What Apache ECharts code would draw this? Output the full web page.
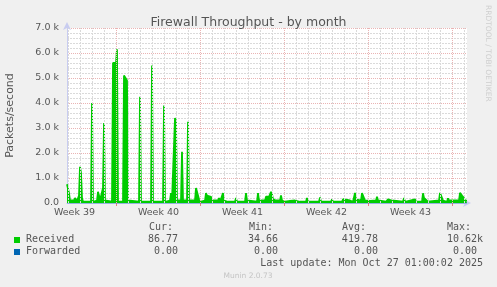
<!DOCTYPE html>
<html><head><meta charset="utf-8">
<script src="https://cdn.jsdelivr.net/npm/echarts@6/dist/echarts.min.js"></script>
<style>html,body{margin:0;padding:0;background:#f0f0f0}#c{width:497px;height:287px}</style>
</head><body><div id="c"></div>
<script>
// Hours relative to Mon 29 Sep 2025 00:00
const times = [-99,-97,-95,-93,-89,-85,-83,-81,-79,-75,-73,-71,-69,-67,-51,-49,-47,-39,-37,-35,-33,-29,-27,-25,-23,-21,-9,-7,-1,1,3,13,15,19,21,23,25,45,47,49,69,71,73,93,95,97,107,109,111,115,117,119,121,129,131,133,141,143,145,157,159,161,163,165,167,177,179,181,185,189,191,195,203,205,207,211,213,215,223,237,239,241,257,259,261,281,283,285,297,299,301,305,309,311,313,319,327,329,331,337,341,347,357,367,379,381,383,405,407,409,429,431,433,451,453,457,467,473,477,479,483,489,491,495,497,501,507,519,521,523,539,543,547,551,555,573,575,577,597,599,611,613,615,619,623,645,647,651,653,661,663,665,673,685,687,691,695,697,701];
const received = [750,700,400,100,50,100,200,150,80,300,1450,1200,200,50,50,4000,50,100,450,300,100,100,600,3200,100,50,50,5600,5600,6150,50,50,5100,5100,4900,100,50,50,4250,50,50,5500,50,50,3900,50,100,400,100,50,3400,3300,100,100,2050,100,100,3250,100,100,600,450,300,150,50,100,400,300,300,250,100,50,100,200,50,50,400,100,50,50,200,50,50,400,100,50,400,100,100,250,300,250,450,350,150,100,100,300,100,50,100,80,100,50,50,200,50,50,220,50,50,150,50,50,150,100,100,50,400,150,150,100,400,400,100,100,80,100,250,100,50,150,200,100,50,50,200,50,150,50,50,390,200,150,50,100,410,400,100,50,190,100,100,100,410,300,200,100,90];
const fwdTimes = [-99, 701];
const forwarded = [0, 0];

const weekLabels = ['Week 39','Week 40','Week 41','Week 42','Week 43'];
const weekLabelHours = [-84, 84, 252, 420, 588];
const weekStartHours = [0, 168, 336, 504, 672];

const legendNames = ['Received','Forwarded'];
const legendColors = ['#00cc00','#0066b3'];
const statHeaders = ['Cur:','Min:','Avg:','Max:'];
const receivedStats = ['86.77 ','34.66 ','419.78 ','10.62k'];
const forwardedStats = ['0.00 ','0.00 ','0.00 ','0.00 '];
const lastUpdate = 'Last update: Mon Oct 27 01:00:02 2025';

const chart = echarts.init(document.getElementById('c'), null, {renderer:'canvas'});

const dayLines = [];
for (let h = -96; h <= 700; h += 24) {
  if (weekStartHours.indexOf(h) >= 0) continue;
  dayLines.push({xAxis: h, lineStyle: {color: '#dadada', type: [2,1], width: 1}});
}
weekStartHours.forEach(h => dayLines.push({xAxis: h, lineStyle: {color: '#eab4b4', type: [1,1], width: 1}}));

const mono = 'DejaVu Sans Mono';
const txtColor = '#555';
const graphic = [];
const hdrX = [149, 249, 342, 447];
const colRight = [184, 284, 384, 483];
statHeaders.forEach((t,i) => graphic.push({type:'text', left:hdrX[i], top:222, style:{text:t, font:'10px "'+mono+'"', fill:txtColor}}));
[receivedStats, forwardedStats].forEach((arr, r) => {
  const y = 234 + r*12;
  graphic.push({type:'rect', shape:{x:14, y:y+3, width:6, height:6}, style:{fill:legendColors[r]}});
  graphic.push({type:'text', x:26, y:y, style:{text:legendNames[r], font:'10px "'+mono+'"', fill:txtColor}});
  arr.forEach((v,i) => graphic.push({type:'text', x:colRight[i], y:y, style:{text:v, font:'10px "'+mono+'"', fill:txtColor, align:'right'}}));
});
graphic.push({type:'text', x:483, y:258, style:{text:lastUpdate, font:'10px "'+mono+'"', fill:txtColor, align:'right'}});
graphic.push({type:'text', x:248, y:272, style:{text:'Munin 2.0.73', font:'7.5px "DejaVu Sans"', fill:'#c4c4c4', align:'center'}});
graphic.push({type:'text', x:484, y:5, rotation:-Math.PI/2, style:{text:'RRDTOOL / TOBI OETIKER', font:'7.5px "DejaVu Sans"', fill:'#cfcfcf', align:'left', verticalAlign:'bottom'}});

chart.setOption({
  animation: false,
  backgroundColor: '#f0f0f0',
  title: {text:'Firewall Throughput - by month', left:'center', top:11,
    textStyle:{fontFamily:'DejaVu Sans', fontSize:12.5, fontWeight:'normal', color:'#555'}},
  grid: {left:67, right:30, top:28, bottom:84, show:true, backgroundColor:'#ffffff', borderWidth:0, containLabel:false, outerBoundsMode:'none'},
  xAxis: {type:'value', min:-99, max:701,
    axisLine:{show:true, onZero:false, lineStyle:{color:'#c8ccf0', width:1}, symbol:['none','arrow'], symbolSize:[6,8], symbolOffset:[0,4]},
    axisTick:{show:true, customValues:weekStartHours, length:3, lineStyle:{color:'#e08080'}},
    axisLabel:{customValues:weekLabelHours, formatter:(v)=>weekLabels[weekLabelHours.indexOf(Math.round(v))] || '',
      fontFamily:'DejaVu Sans', fontSize:9.5, color:txtColor, margin:5},
    splitLine:{show:false}},
  yAxis: {type:'value', min:0, max:7000, interval:1000,
    name:'Packets/second', nameLocation:'middle', nameGap:51, nameRotate:90,
    nameTextStyle:{fontFamily:'DejaVu Sans', fontSize:11, color:txtColor},
    axisLine:{show:true, onZero:false, lineStyle:{color:'#c8ccf0', width:1}, symbol:['none','arrow'], symbolSize:[6,8], symbolOffset:[0,6]},
    axisTick:{show:false},
    axisLabel:{formatter:(v)=> v===0 ? '0.0' : (v/1000).toFixed(1)+' k', fontFamily:'DejaVu Sans', fontSize:9.5, color:txtColor, margin:8},
    splitLine:{show:true, lineStyle:{color:'#eab4b4', type:[1,1]}},
    minorTick:{show:false, splitNumber:5},
    minorSplitLine:{show:true, lineStyle:{color:'#dadada', type:[2,1]}}},
  series: [
    {name:'Forwarded', type:'line', z:1, symbol:'none', data: fwdTimes.map((t,i)=>[t, forwarded[i]]),
      lineStyle:{color:'#0066b3', width:1},
      markLine:{silent:true, symbol:'none', label:{show:false}, data: dayLines, animation:false}},
    {name:'Received', type:'line', z:3, symbol:'none', data: times.map((t,i)=>[t, received[i]]),
      lineStyle:{color:'#00cc00', width:1.8, join:'bevel'}, areaStyle:{color:'#00cc00', opacity:1}}
  ],
  graphic: graphic
});
</script></body></html>
